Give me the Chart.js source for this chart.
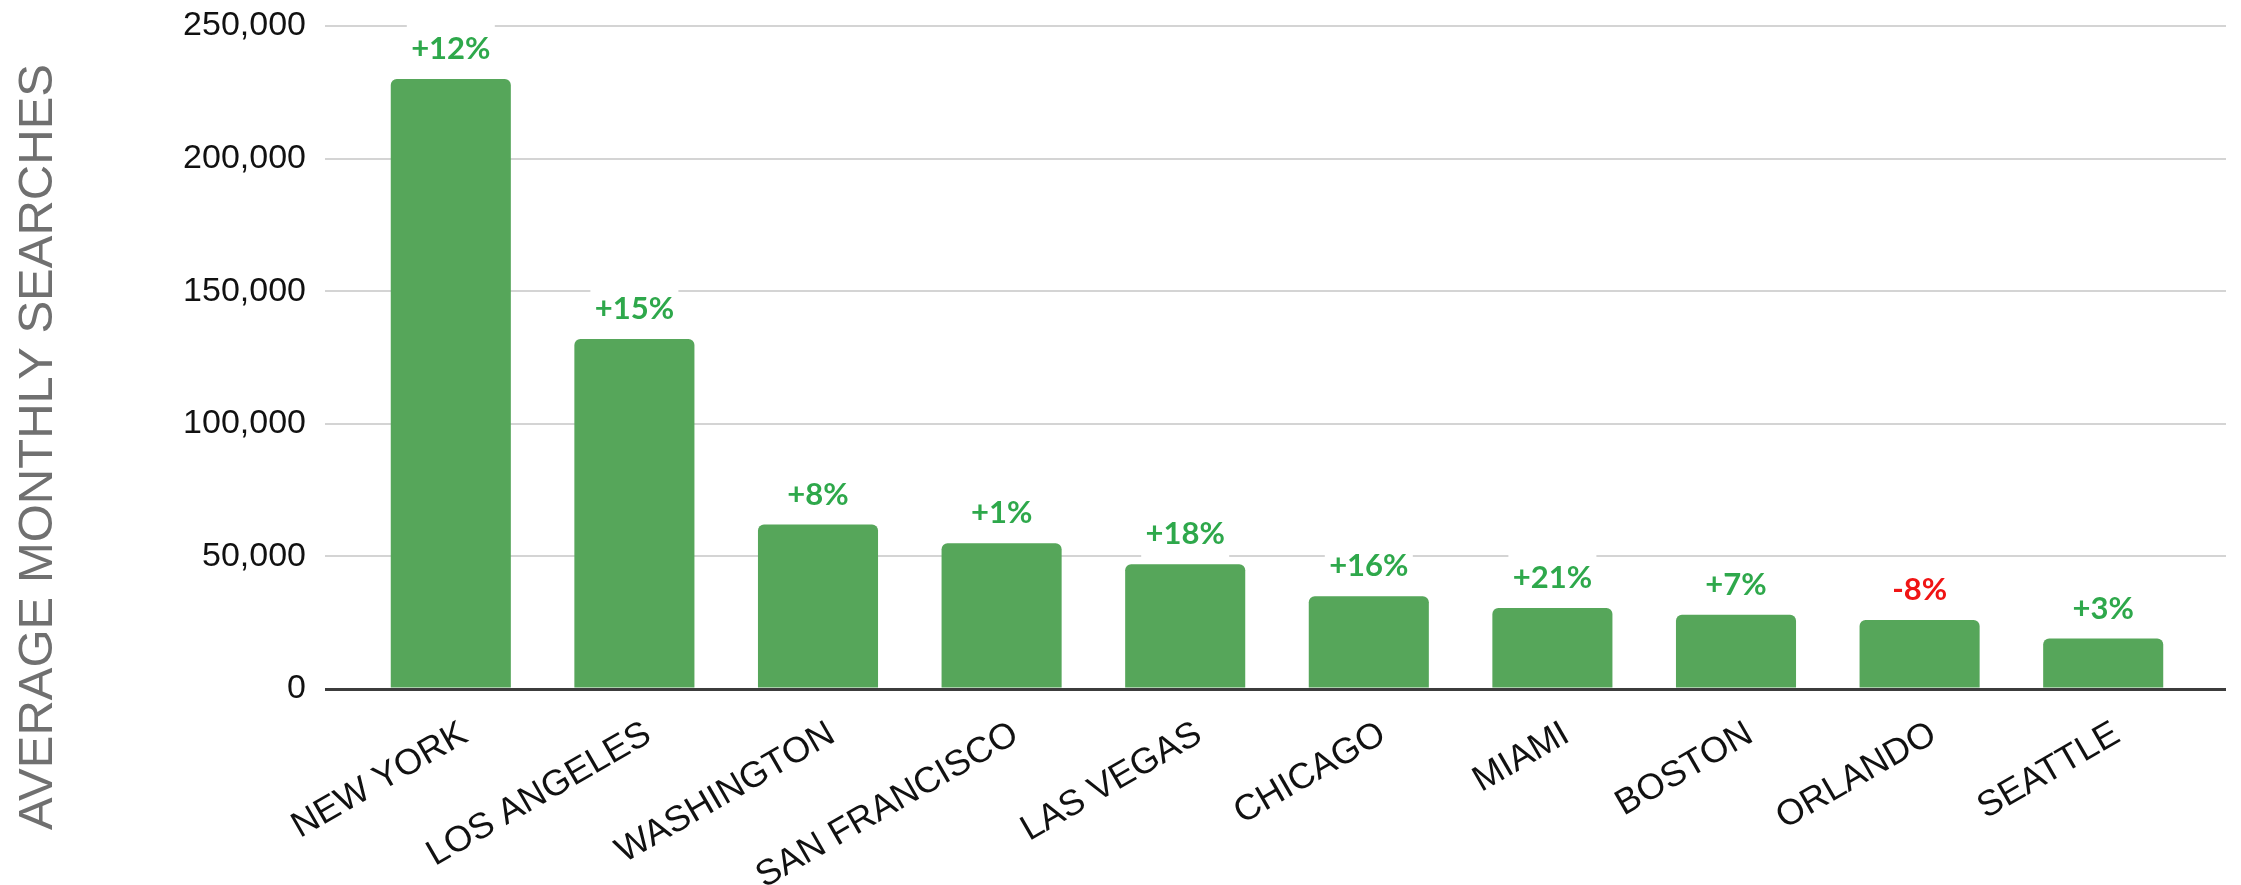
<!DOCTYPE html>
<html>
<head>
<meta charset="utf-8">
<script src="https://cdn.jsdelivr.net/npm/chart.js@4"></script>
<style>
  html, body { margin: 0; padding: 0; background: #ffffff; }
  #wrap { width: 2241px; height: 885px; position: relative; }
</style>
</head>
<body>
<div id="wrap"><canvas id="c" width="2241" height="885"></canvas></div>
<script>
const categories = ['NEW YORK', 'LOS ANGELES', 'WASHINGTON', 'SAN FRANCISCO', 'LAS VEGAS', 'CHICAGO', 'MIAMI', 'BOSTON', 'ORLANDO', 'SEATTLE'];
const searches = [230000, 132000, 62000, 55000, 47000, 35000, 30500, 28000, 26000, 19000];
const changeLabels = ['+12%', '+15%', '+8%', '+1%', '+18%', '+16%', '+21%', '+7%', '-8%', '+3%'];
const yTickValues = [0, 50000, 100000, 150000, 200000, 250000];
const yTitle = 'AVERAGE MONTHLY SEARCHES';

const GRID = '#d4d4d4';
const ZERO = '#3c3c3c';
const gridColor = ctx => (ctx.tick && ctx.tick.value === 0) ? ZERO : GRID;
const gridWidth = ctx => (ctx.tick && ctx.tick.value === 0) ? 3 : 2;

const yTitlePlugin = {
  id: 'yTitle',
  afterDraw(chart) {
    const ctx = chart.ctx;
    ctx.save();
    ctx.translate(38, 447);
    ctx.rotate(-Math.PI / 2);
    ctx.font = '49px "Liberation Sans", Arial, sans-serif';
    ctx.fillStyle = '#707070';
    ctx.textAlign = 'center';
    ctx.textBaseline = 'middle';
    ctx.fillText(yTitle, 0, 0);
    ctx.restore();
  }
};

const changePlugin = {
  id: 'changeLabels',
  afterDatasetsDraw(chart) {
    const ctx = chart.ctx;
    const meta = chart.getDatasetMeta(0);
    ctx.save();
    meta.data.forEach((bar, i) => {
      const txt = changeLabels[i];
      const cx = bar.x;
      const cy = bar.y - 30;
      ctx.fillStyle = '#ffffff';
      ctx.fillRect(cx - 44, cy - 25, 88, 50);
      ctx.font = 'bold 31px Lato, "Open Sans", sans-serif';
      ctx.textAlign = 'center';
      ctx.textBaseline = 'middle';
      ctx.fillStyle = txt.startsWith('-') ? '#f01414' : '#2ea84b';
      ctx.fillText(txt, cx, cy);
    });
    ctx.restore();
  }
};

new Chart(document.getElementById('c'), {
  type: 'bar',
  data: {
    labels: categories,
    datasets: [{
      data: searches,
      backgroundColor: '#56a65a',
      borderWidth: 0,
      borderRadius: { topLeft: 6, topRight: 6, bottomLeft: 0, bottomRight: 0 },
      borderSkipped: 'bottom',
      barPercentage: 0.654,
      categoryPercentage: 1.0
    }]
  },
  options: {
    responsive: false,
    animation: false,
    layout: { padding: { top: 26, left: 0, right: 0, bottom: 0 } },
    plugins: { legend: { display: false }, tooltip: { enabled: false } },
    scales: {
      x: {
        grid: { display: false },
        border: { display: false },
        ticks: {
          autoSkip: false,
          minRotation: 30,
          maxRotation: 30,
          padding: 16,
          labelOffset: 14,
          color: '#111111',
          font: { family: '"Liberation Sans", Arial, sans-serif', size: 36 }
        },
        afterFit: s => { s.height = 196; }
      },
      y: {
        position: 'left',
        min: 0,
        max: 250000,
        afterBuildTicks: s => { s.ticks = yTickValues.map(v => ({ value: v })); },
        grid: { color: gridColor, lineWidth: gridWidth, tickColor: gridColor, tickLength: 34, drawTicks: true },
        border: { display: false },
        ticks: {
          padding: 19,
          color: '#111111',
          font: { family: '"Liberation Sans", Arial, sans-serif', size: 34 },
          callback: v => Number(v).toLocaleString('en-US')
        },
        afterFit: s => { s.width = 359; s.paddingTop = 0; s.paddingBottom = 0; }
      },
      y2: {
        position: 'right',
        min: 0,
        max: 250000,
        afterBuildTicks: s => { s.ticks = yTickValues.map(v => ({ value: v })); },
        grid: { drawOnChartArea: false, color: gridColor, lineWidth: gridWidth, tickColor: gridColor, tickLength: 31, drawTicks: true },
        border: { display: false },
        ticks: { display: false },
        afterFit: s => { s.width = 46; s.paddingTop = 0; s.paddingBottom = 0; }
      }
    }
  },
  plugins: [yTitlePlugin, changePlugin]
});
</script>
</body>
</html>
